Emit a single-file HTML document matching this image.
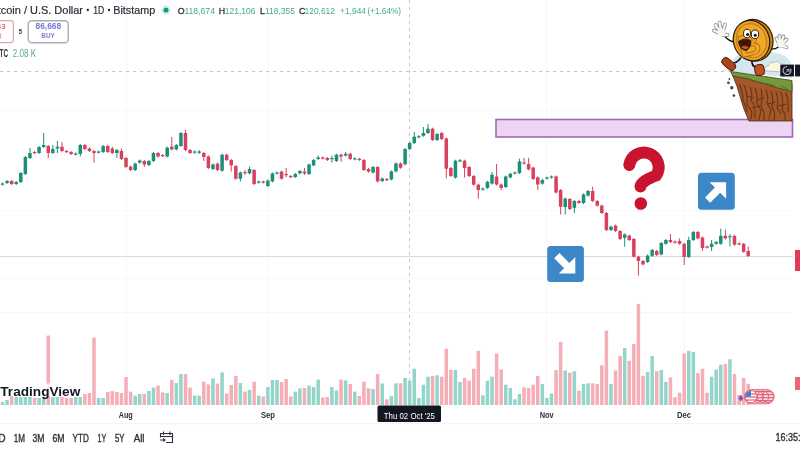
<!DOCTYPE html>
<html><head><meta charset="utf-8"><style>
html,body{margin:0;padding:0;background:#fff;}
body{width:800px;height:450px;overflow:hidden;position:relative;font-family:"Liberation Sans",sans-serif;}
svg{position:absolute;left:0;top:0;filter:blur(0.6px);}
</style></head><body>
<svg width="800" height="450" viewBox="0 0 800 450">
<rect x="0" y="0" width="800" height="450" fill="#ffffff"/>
<line x1="126.5" y1="0" x2="126.5" y2="405" stroke="#f7f8fa" stroke-width="1"/>
<line x1="268.5" y1="0" x2="268.5" y2="405" stroke="#f7f8fa" stroke-width="1"/>
<line x1="546.5" y1="0" x2="546.5" y2="405" stroke="#f7f8fa" stroke-width="1"/>
<line x1="684.5" y1="0" x2="684.5" y2="405" stroke="#f7f8fa" stroke-width="1"/>
<line x1="0" y1="110.5" x2="792" y2="110.5" stroke="#f7f8fa" stroke-width="1"/>
<line x1="0" y1="210.5" x2="792" y2="210.5" stroke="#f7f8fa" stroke-width="1"/>
<line x1="0" y1="278.5" x2="792" y2="278.5" stroke="#f7f8fa" stroke-width="1"/>
<line x1="0" y1="312.5" x2="792" y2="312.5" stroke="#f7f8fa" stroke-width="1"/>
<rect x="0.75" y="402.00" width="3.5" height="3.00" fill="#93d5c8"/>
<rect x="5.33" y="400.00" width="3.5" height="5.00" fill="#93d5c8"/>
<rect x="9.90" y="396.00" width="3.5" height="9.00" fill="#f5adb6"/>
<rect x="14.48" y="397.00" width="3.5" height="8.00" fill="#93d5c8"/>
<rect x="19.05" y="397.00" width="3.5" height="8.00" fill="#93d5c8"/>
<rect x="23.62" y="397.00" width="3.5" height="8.00" fill="#93d5c8"/>
<rect x="28.20" y="397.00" width="3.5" height="8.00" fill="#93d5c8"/>
<rect x="32.77" y="398.00" width="3.5" height="7.00" fill="#f5adb6"/>
<rect x="37.35" y="398.00" width="3.5" height="7.00" fill="#93d5c8"/>
<rect x="41.93" y="397.00" width="3.5" height="8.00" fill="#93d5c8"/>
<rect x="46.50" y="335.60" width="3.5" height="69.40" fill="#f5adb6"/>
<rect x="51.08" y="397.00" width="3.5" height="8.00" fill="#93d5c8"/>
<rect x="55.65" y="397.00" width="3.5" height="8.00" fill="#93d5c8"/>
<rect x="60.23" y="397.00" width="3.5" height="8.00" fill="#f5adb6"/>
<rect x="64.80" y="398.00" width="3.5" height="7.00" fill="#f5adb6"/>
<rect x="69.38" y="398.00" width="3.5" height="7.00" fill="#f5adb6"/>
<rect x="73.95" y="397.00" width="3.5" height="8.00" fill="#93d5c8"/>
<rect x="78.53" y="397.00" width="3.5" height="8.00" fill="#93d5c8"/>
<rect x="83.10" y="394.00" width="3.5" height="11.00" fill="#f5adb6"/>
<rect x="87.67" y="393.00" width="3.5" height="12.00" fill="#f5adb6"/>
<rect x="92.25" y="337.60" width="3.5" height="67.40" fill="#f5adb6"/>
<rect x="96.83" y="398.00" width="3.5" height="7.00" fill="#93d5c8"/>
<rect x="101.40" y="398.00" width="3.5" height="7.00" fill="#93d5c8"/>
<rect x="105.98" y="392.00" width="3.5" height="13.00" fill="#f5adb6"/>
<rect x="110.55" y="391.00" width="3.5" height="14.00" fill="#f5adb6"/>
<rect x="115.12" y="392.00" width="3.5" height="13.00" fill="#f5adb6"/>
<rect x="119.70" y="393.00" width="3.5" height="12.00" fill="#f5adb6"/>
<rect x="124.28" y="377.00" width="3.5" height="28.00" fill="#f5adb6"/>
<rect x="128.85" y="391.60" width="3.5" height="13.40" fill="#f5adb6"/>
<rect x="133.43" y="395.60" width="3.5" height="9.40" fill="#93d5c8"/>
<rect x="138.00" y="394.00" width="3.5" height="11.00" fill="#93d5c8"/>
<rect x="142.58" y="394.00" width="3.5" height="11.00" fill="#f5adb6"/>
<rect x="147.15" y="391.00" width="3.5" height="14.00" fill="#93d5c8"/>
<rect x="151.72" y="387.60" width="3.5" height="17.40" fill="#93d5c8"/>
<rect x="156.30" y="385.60" width="3.5" height="19.40" fill="#f5adb6"/>
<rect x="160.88" y="392.40" width="3.5" height="12.60" fill="#f5adb6"/>
<rect x="165.45" y="393.00" width="3.5" height="12.00" fill="#93d5c8"/>
<rect x="170.03" y="380.00" width="3.5" height="25.00" fill="#f5adb6"/>
<rect x="174.60" y="383.00" width="3.5" height="22.00" fill="#93d5c8"/>
<rect x="179.18" y="374.00" width="3.5" height="31.00" fill="#93d5c8"/>
<rect x="183.75" y="374.00" width="3.5" height="31.00" fill="#f5adb6"/>
<rect x="188.33" y="387.60" width="3.5" height="17.40" fill="#f5adb6"/>
<rect x="192.90" y="395.60" width="3.5" height="9.40" fill="#93d5c8"/>
<rect x="197.47" y="395.60" width="3.5" height="9.40" fill="#93d5c8"/>
<rect x="202.05" y="381.60" width="3.5" height="23.40" fill="#f5adb6"/>
<rect x="206.62" y="384.40" width="3.5" height="20.60" fill="#f5adb6"/>
<rect x="211.20" y="378.40" width="3.5" height="26.60" fill="#93d5c8"/>
<rect x="215.78" y="383.60" width="3.5" height="21.40" fill="#f5adb6"/>
<rect x="220.35" y="372.40" width="3.5" height="32.60" fill="#93d5c8"/>
<rect x="224.93" y="393.60" width="3.5" height="11.40" fill="#f5adb6"/>
<rect x="229.50" y="385.00" width="3.5" height="20.00" fill="#f5adb6"/>
<rect x="234.08" y="376.00" width="3.5" height="29.00" fill="#f5adb6"/>
<rect x="238.65" y="383.00" width="3.5" height="22.00" fill="#93d5c8"/>
<rect x="243.23" y="391.60" width="3.5" height="13.40" fill="#f5adb6"/>
<rect x="247.80" y="390.00" width="3.5" height="15.00" fill="#93d5c8"/>
<rect x="252.38" y="381.60" width="3.5" height="23.40" fill="#f5adb6"/>
<rect x="256.95" y="395.60" width="3.5" height="9.40" fill="#93d5c8"/>
<rect x="261.53" y="396.40" width="3.5" height="8.60" fill="#f5adb6"/>
<rect x="266.10" y="387.00" width="3.5" height="18.00" fill="#93d5c8"/>
<rect x="270.68" y="380.00" width="3.5" height="25.00" fill="#93d5c8"/>
<rect x="275.25" y="380.00" width="3.5" height="25.00" fill="#93d5c8"/>
<rect x="279.82" y="382.00" width="3.5" height="23.00" fill="#f5adb6"/>
<rect x="284.40" y="379.00" width="3.5" height="26.00" fill="#f5adb6"/>
<rect x="288.98" y="396.40" width="3.5" height="8.60" fill="#f5adb6"/>
<rect x="293.55" y="391.60" width="3.5" height="13.40" fill="#93d5c8"/>
<rect x="298.12" y="388.40" width="3.5" height="16.60" fill="#93d5c8"/>
<rect x="302.70" y="388.00" width="3.5" height="17.00" fill="#f5adb6"/>
<rect x="307.28" y="385.60" width="3.5" height="19.40" fill="#93d5c8"/>
<rect x="311.85" y="387.00" width="3.5" height="18.00" fill="#93d5c8"/>
<rect x="316.43" y="379.60" width="3.5" height="25.40" fill="#93d5c8"/>
<rect x="321.00" y="397.60" width="3.5" height="7.40" fill="#f5adb6"/>
<rect x="325.57" y="397.00" width="3.5" height="8.00" fill="#f5adb6"/>
<rect x="330.15" y="387.00" width="3.5" height="18.00" fill="#93d5c8"/>
<rect x="334.73" y="390.40" width="3.5" height="14.60" fill="#93d5c8"/>
<rect x="339.30" y="379.60" width="3.5" height="25.40" fill="#f5adb6"/>
<rect x="343.88" y="380.40" width="3.5" height="24.60" fill="#93d5c8"/>
<rect x="348.45" y="384.00" width="3.5" height="21.00" fill="#f5adb6"/>
<rect x="353.03" y="391.60" width="3.5" height="13.40" fill="#93d5c8"/>
<rect x="357.60" y="396.00" width="3.5" height="9.00" fill="#f5adb6"/>
<rect x="362.18" y="381.60" width="3.5" height="23.40" fill="#f5adb6"/>
<rect x="366.75" y="388.40" width="3.5" height="16.60" fill="#f5adb6"/>
<rect x="371.32" y="389.00" width="3.5" height="16.00" fill="#93d5c8"/>
<rect x="375.90" y="374.00" width="3.5" height="31.00" fill="#f5adb6"/>
<rect x="380.48" y="383.50" width="3.5" height="21.50" fill="#93d5c8"/>
<rect x="385.05" y="399.30" width="3.5" height="5.70" fill="#f5adb6"/>
<rect x="389.62" y="396.00" width="3.5" height="9.00" fill="#93d5c8"/>
<rect x="394.20" y="383.30" width="3.5" height="21.70" fill="#93d5c8"/>
<rect x="398.78" y="383.30" width="3.5" height="21.70" fill="#f5adb6"/>
<rect x="403.35" y="378.00" width="3.5" height="27.00" fill="#93d5c8"/>
<rect x="407.93" y="380.70" width="3.5" height="24.30" fill="#93d5c8"/>
<rect x="412.50" y="368.70" width="3.5" height="36.30" fill="#93d5c8"/>
<rect x="417.07" y="398.00" width="3.5" height="7.00" fill="#93d5c8"/>
<rect x="421.65" y="384.70" width="3.5" height="20.30" fill="#93d5c8"/>
<rect x="426.23" y="376.70" width="3.5" height="28.30" fill="#93d5c8"/>
<rect x="430.80" y="376.00" width="3.5" height="29.00" fill="#f5adb6"/>
<rect x="435.38" y="375.30" width="3.5" height="29.70" fill="#93d5c8"/>
<rect x="439.95" y="376.70" width="3.5" height="28.30" fill="#f5adb6"/>
<rect x="444.53" y="348.70" width="3.5" height="56.30" fill="#f5adb6"/>
<rect x="449.10" y="370.00" width="3.5" height="35.00" fill="#f5adb6"/>
<rect x="453.68" y="370.00" width="3.5" height="35.00" fill="#93d5c8"/>
<rect x="458.25" y="382.00" width="3.5" height="23.00" fill="#93d5c8"/>
<rect x="462.83" y="378.00" width="3.5" height="27.00" fill="#f5adb6"/>
<rect x="467.40" y="380.70" width="3.5" height="24.30" fill="#f5adb6"/>
<rect x="471.98" y="368.70" width="3.5" height="36.30" fill="#f5adb6"/>
<rect x="476.55" y="350.80" width="3.5" height="54.20" fill="#f5adb6"/>
<rect x="481.12" y="395.30" width="3.5" height="9.70" fill="#93d5c8"/>
<rect x="485.70" y="380.70" width="3.5" height="24.30" fill="#93d5c8"/>
<rect x="490.28" y="376.70" width="3.5" height="28.30" fill="#93d5c8"/>
<rect x="494.85" y="353.50" width="3.5" height="51.50" fill="#f5adb6"/>
<rect x="499.43" y="369.50" width="3.5" height="35.50" fill="#f5adb6"/>
<rect x="504.00" y="384.70" width="3.5" height="20.30" fill="#93d5c8"/>
<rect x="508.58" y="388.00" width="3.5" height="17.00" fill="#93d5c8"/>
<rect x="513.15" y="399.30" width="3.5" height="5.70" fill="#93d5c8"/>
<rect x="517.73" y="394.00" width="3.5" height="11.00" fill="#93d5c8"/>
<rect x="522.30" y="387.30" width="3.5" height="17.70" fill="#f5adb6"/>
<rect x="526.88" y="388.00" width="3.5" height="17.00" fill="#f5adb6"/>
<rect x="531.45" y="384.70" width="3.5" height="20.30" fill="#f5adb6"/>
<rect x="536.02" y="375.90" width="3.5" height="29.10" fill="#f5adb6"/>
<rect x="540.60" y="383.90" width="3.5" height="21.10" fill="#93d5c8"/>
<rect x="545.18" y="398.00" width="3.5" height="7.00" fill="#93d5c8"/>
<rect x="549.75" y="393.50" width="3.5" height="11.50" fill="#93d5c8"/>
<rect x="554.33" y="370.00" width="3.5" height="35.00" fill="#f5adb6"/>
<rect x="558.90" y="342.00" width="3.5" height="63.00" fill="#f5adb6"/>
<rect x="563.48" y="370.50" width="3.5" height="34.50" fill="#93d5c8"/>
<rect x="568.05" y="372.70" width="3.5" height="32.30" fill="#f5adb6"/>
<rect x="572.62" y="371.30" width="3.5" height="33.70" fill="#93d5c8"/>
<rect x="577.20" y="390.80" width="3.5" height="14.20" fill="#f5adb6"/>
<rect x="581.77" y="383.90" width="3.5" height="21.10" fill="#93d5c8"/>
<rect x="586.35" y="383.30" width="3.5" height="21.70" fill="#93d5c8"/>
<rect x="590.93" y="383.30" width="3.5" height="21.70" fill="#f5adb6"/>
<rect x="595.50" y="383.90" width="3.5" height="21.10" fill="#f5adb6"/>
<rect x="600.08" y="365.20" width="3.5" height="39.80" fill="#f5adb6"/>
<rect x="604.65" y="330.50" width="3.5" height="74.50" fill="#f5adb6"/>
<rect x="609.23" y="383.90" width="3.5" height="21.10" fill="#93d5c8"/>
<rect x="613.80" y="370.50" width="3.5" height="34.50" fill="#f5adb6"/>
<rect x="618.38" y="356.00" width="3.5" height="49.00" fill="#f5adb6"/>
<rect x="622.95" y="348.00" width="3.5" height="57.00" fill="#93d5c8"/>
<rect x="627.52" y="360.70" width="3.5" height="44.30" fill="#f5adb6"/>
<rect x="632.10" y="343.90" width="3.5" height="61.10" fill="#f5adb6"/>
<rect x="636.68" y="303.90" width="3.5" height="101.10" fill="#f5adb6"/>
<rect x="641.25" y="375.90" width="3.5" height="29.10" fill="#f5adb6"/>
<rect x="645.83" y="372.00" width="3.5" height="33.00" fill="#93d5c8"/>
<rect x="650.40" y="356.00" width="3.5" height="49.00" fill="#93d5c8"/>
<rect x="654.98" y="371.30" width="3.5" height="33.70" fill="#f5adb6"/>
<rect x="659.55" y="370.00" width="3.5" height="35.00" fill="#93d5c8"/>
<rect x="664.12" y="382.00" width="3.5" height="23.00" fill="#93d5c8"/>
<rect x="668.70" y="377.50" width="3.5" height="27.50" fill="#f5adb6"/>
<rect x="673.27" y="397.20" width="3.5" height="7.80" fill="#f5adb6"/>
<rect x="677.85" y="392.70" width="3.5" height="12.30" fill="#f5adb6"/>
<rect x="682.43" y="353.50" width="3.5" height="51.50" fill="#f5adb6"/>
<rect x="687.00" y="350.80" width="3.5" height="54.20" fill="#93d5c8"/>
<rect x="691.58" y="351.90" width="3.5" height="53.10" fill="#93d5c8"/>
<rect x="696.15" y="373.20" width="3.5" height="31.80" fill="#f5adb6"/>
<rect x="700.73" y="368.70" width="3.5" height="36.30" fill="#f5adb6"/>
<rect x="705.30" y="392.70" width="3.5" height="12.30" fill="#f5adb6"/>
<rect x="709.88" y="376.70" width="3.5" height="28.30" fill="#93d5c8"/>
<rect x="714.45" y="369.50" width="3.5" height="35.50" fill="#93d5c8"/>
<rect x="719.02" y="364.70" width="3.5" height="40.30" fill="#93d5c8"/>
<rect x="723.60" y="364.00" width="3.5" height="41.00" fill="#f5adb6"/>
<rect x="728.18" y="359.30" width="3.5" height="45.70" fill="#93d5c8"/>
<rect x="732.75" y="374.00" width="3.5" height="31.00" fill="#f5adb6"/>
<rect x="737.33" y="395.00" width="3.5" height="10.00" fill="#f5adb6"/>
<rect x="741.90" y="378.00" width="3.5" height="27.00" fill="#f5adb6"/>
<rect x="746.48" y="383.90" width="3.5" height="21.10" fill="#f5adb6"/>
<line x1="409.5" y1="0" x2="409.5" y2="405" stroke="#c4c6cb" stroke-width="1" stroke-dasharray="3.2 3.8"/>
<line x1="0" y1="71.5" x2="780" y2="71.5" stroke="#c4c6cb" stroke-width="1" stroke-dasharray="3.2 3.8"/>
<line x1="0" y1="256.5" x2="793" y2="256.5" stroke="#d8d9dd" stroke-width="1"/>
<line x1="2.50" y1="182.50" x2="2.50" y2="185.50" stroke="#1a9077" stroke-width="1"/>
<rect x="0.75" y="183.50" width="3.5" height="1.20" fill="#1a9077"/>
<line x1="7.08" y1="180.00" x2="7.08" y2="184.00" stroke="#1a9077" stroke-width="1"/>
<rect x="5.33" y="181.00" width="3.5" height="2.00" fill="#1a9077"/>
<line x1="11.65" y1="180.00" x2="11.65" y2="185.00" stroke="#d9405d" stroke-width="1"/>
<rect x="9.90" y="181.00" width="3.5" height="3.00" fill="#d9405d"/>
<line x1="16.23" y1="181.00" x2="16.23" y2="185.00" stroke="#1a9077" stroke-width="1"/>
<rect x="14.48" y="182.00" width="3.5" height="2.00" fill="#1a9077"/>
<line x1="20.80" y1="172.00" x2="20.80" y2="183.00" stroke="#1a9077" stroke-width="1"/>
<rect x="19.05" y="173.00" width="3.5" height="9.00" fill="#1a9077"/>
<line x1="25.38" y1="156.00" x2="25.38" y2="175.00" stroke="#1a9077" stroke-width="1"/>
<rect x="23.62" y="157.00" width="3.5" height="17.00" fill="#1a9077"/>
<line x1="29.95" y1="148.00" x2="29.95" y2="159.00" stroke="#1a9077" stroke-width="1"/>
<rect x="28.20" y="153.00" width="3.5" height="5.00" fill="#1a9077"/>
<line x1="34.52" y1="151.00" x2="34.52" y2="154.00" stroke="#d9405d" stroke-width="1"/>
<rect x="32.77" y="152.00" width="3.5" height="1.20" fill="#d9405d"/>
<line x1="39.10" y1="146.00" x2="39.10" y2="154.00" stroke="#1a9077" stroke-width="1"/>
<rect x="37.35" y="147.00" width="3.5" height="6.00" fill="#1a9077"/>
<line x1="43.68" y1="133.00" x2="43.68" y2="148.00" stroke="#1a9077" stroke-width="1"/>
<rect x="41.93" y="145.00" width="3.5" height="2.00" fill="#1a9077"/>
<line x1="48.25" y1="145.00" x2="48.25" y2="158.00" stroke="#d9405d" stroke-width="1"/>
<rect x="46.50" y="146.00" width="3.5" height="7.00" fill="#d9405d"/>
<line x1="52.83" y1="145.00" x2="52.83" y2="154.00" stroke="#1a9077" stroke-width="1"/>
<rect x="51.08" y="149.00" width="3.5" height="4.00" fill="#1a9077"/>
<line x1="57.40" y1="141.00" x2="57.40" y2="153.00" stroke="#1a9077" stroke-width="1"/>
<rect x="55.65" y="146.70" width="3.5" height="1.80" fill="#1a9077"/>
<line x1="61.98" y1="142.00" x2="61.98" y2="152.00" stroke="#d9405d" stroke-width="1"/>
<rect x="60.23" y="146.70" width="3.5" height="4.30" fill="#d9405d"/>
<line x1="66.55" y1="150.00" x2="66.55" y2="153.00" stroke="#d9405d" stroke-width="1"/>
<rect x="64.80" y="151.00" width="3.5" height="1.20" fill="#d9405d"/>
<line x1="71.12" y1="151.00" x2="71.12" y2="155.00" stroke="#d9405d" stroke-width="1"/>
<rect x="69.38" y="152.00" width="3.5" height="2.00" fill="#d9405d"/>
<line x1="75.70" y1="152.50" x2="75.70" y2="155.50" stroke="#1a9077" stroke-width="1"/>
<rect x="73.95" y="153.50" width="3.5" height="1.20" fill="#1a9077"/>
<line x1="80.28" y1="144.00" x2="80.28" y2="156.50" stroke="#1a9077" stroke-width="1"/>
<rect x="78.53" y="145.00" width="3.5" height="9.00" fill="#1a9077"/>
<line x1="84.85" y1="144.00" x2="84.85" y2="150.00" stroke="#d9405d" stroke-width="1"/>
<rect x="83.10" y="145.00" width="3.5" height="4.00" fill="#d9405d"/>
<line x1="89.42" y1="147.50" x2="89.42" y2="152.00" stroke="#d9405d" stroke-width="1"/>
<rect x="87.67" y="148.50" width="3.5" height="2.50" fill="#d9405d"/>
<line x1="94.00" y1="150.00" x2="94.00" y2="162.70" stroke="#d9405d" stroke-width="1"/>
<rect x="92.25" y="151.00" width="3.5" height="2.00" fill="#d9405d"/>
<line x1="98.58" y1="150.50" x2="98.58" y2="153.50" stroke="#1a9077" stroke-width="1"/>
<rect x="96.83" y="151.50" width="3.5" height="1.20" fill="#1a9077"/>
<line x1="103.15" y1="145.00" x2="103.15" y2="153.00" stroke="#1a9077" stroke-width="1"/>
<rect x="101.40" y="146.00" width="3.5" height="6.00" fill="#1a9077"/>
<line x1="107.73" y1="145.00" x2="107.73" y2="153.00" stroke="#d9405d" stroke-width="1"/>
<rect x="105.98" y="146.00" width="3.5" height="6.00" fill="#d9405d"/>
<line x1="112.30" y1="146.70" x2="112.30" y2="154.00" stroke="#d9405d" stroke-width="1"/>
<rect x="110.55" y="148.50" width="3.5" height="4.50" fill="#d9405d"/>
<line x1="116.88" y1="149.00" x2="116.88" y2="158.00" stroke="#1a9077" stroke-width="1"/>
<rect x="115.12" y="150.00" width="3.5" height="3.00" fill="#1a9077"/>
<line x1="121.45" y1="148.50" x2="121.45" y2="160.00" stroke="#d9405d" stroke-width="1"/>
<rect x="119.70" y="151.00" width="3.5" height="8.00" fill="#d9405d"/>
<line x1="126.03" y1="157.00" x2="126.03" y2="168.00" stroke="#d9405d" stroke-width="1"/>
<rect x="124.28" y="158.00" width="3.5" height="9.00" fill="#d9405d"/>
<line x1="130.60" y1="165.60" x2="130.60" y2="171.00" stroke="#d9405d" stroke-width="1"/>
<rect x="128.85" y="166.60" width="3.5" height="3.40" fill="#d9405d"/>
<line x1="135.18" y1="162.60" x2="135.18" y2="171.00" stroke="#1a9077" stroke-width="1"/>
<rect x="133.43" y="163.60" width="3.5" height="6.40" fill="#1a9077"/>
<line x1="139.75" y1="159.50" x2="139.75" y2="163.70" stroke="#1a9077" stroke-width="1"/>
<rect x="138.00" y="160.50" width="3.5" height="2.20" fill="#1a9077"/>
<line x1="144.33" y1="160.00" x2="144.33" y2="167.00" stroke="#d9405d" stroke-width="1"/>
<rect x="142.58" y="161.00" width="3.5" height="3.50" fill="#d9405d"/>
<line x1="148.90" y1="160.00" x2="148.90" y2="166.00" stroke="#1a9077" stroke-width="1"/>
<rect x="147.15" y="161.00" width="3.5" height="4.00" fill="#1a9077"/>
<line x1="153.47" y1="152.00" x2="153.47" y2="162.00" stroke="#1a9077" stroke-width="1"/>
<rect x="151.72" y="153.00" width="3.5" height="8.00" fill="#1a9077"/>
<line x1="158.05" y1="152.00" x2="158.05" y2="157.50" stroke="#d9405d" stroke-width="1"/>
<rect x="156.30" y="153.00" width="3.5" height="3.50" fill="#d9405d"/>
<line x1="162.62" y1="154.00" x2="162.62" y2="157.00" stroke="#d9405d" stroke-width="1"/>
<rect x="160.88" y="155.00" width="3.5" height="1.20" fill="#d9405d"/>
<line x1="167.20" y1="146.60" x2="167.20" y2="157.50" stroke="#1a9077" stroke-width="1"/>
<rect x="165.45" y="147.60" width="3.5" height="8.90" fill="#1a9077"/>
<line x1="171.78" y1="137.00" x2="171.78" y2="150.40" stroke="#d9405d" stroke-width="1"/>
<rect x="170.03" y="146.70" width="3.5" height="2.70" fill="#d9405d"/>
<line x1="176.35" y1="144.00" x2="176.35" y2="150.40" stroke="#1a9077" stroke-width="1"/>
<rect x="174.60" y="145.00" width="3.5" height="4.40" fill="#1a9077"/>
<line x1="180.93" y1="132.00" x2="180.93" y2="147.00" stroke="#1a9077" stroke-width="1"/>
<rect x="179.18" y="133.00" width="3.5" height="13.00" fill="#1a9077"/>
<line x1="185.50" y1="130.00" x2="185.50" y2="151.00" stroke="#d9405d" stroke-width="1"/>
<rect x="183.75" y="133.00" width="3.5" height="17.00" fill="#d9405d"/>
<line x1="190.08" y1="149.00" x2="190.08" y2="154.00" stroke="#d9405d" stroke-width="1"/>
<rect x="188.33" y="150.00" width="3.5" height="3.00" fill="#d9405d"/>
<line x1="194.65" y1="150.50" x2="194.65" y2="153.50" stroke="#1a9077" stroke-width="1"/>
<rect x="192.90" y="151.50" width="3.5" height="1.20" fill="#1a9077"/>
<line x1="199.22" y1="150.00" x2="199.22" y2="154.00" stroke="#1a9077" stroke-width="1"/>
<rect x="197.47" y="151.50" width="3.5" height="1.20" fill="#1a9077"/>
<line x1="203.80" y1="152.00" x2="203.80" y2="161.00" stroke="#d9405d" stroke-width="1"/>
<rect x="202.05" y="153.00" width="3.5" height="4.00" fill="#d9405d"/>
<line x1="208.38" y1="155.50" x2="208.38" y2="169.00" stroke="#d9405d" stroke-width="1"/>
<rect x="206.62" y="156.50" width="3.5" height="11.50" fill="#d9405d"/>
<line x1="212.95" y1="163.50" x2="212.95" y2="170.00" stroke="#1a9077" stroke-width="1"/>
<rect x="211.20" y="164.50" width="3.5" height="4.50" fill="#1a9077"/>
<line x1="217.53" y1="162.60" x2="217.53" y2="171.00" stroke="#d9405d" stroke-width="1"/>
<rect x="215.78" y="163.60" width="3.5" height="6.40" fill="#d9405d"/>
<line x1="222.10" y1="153.70" x2="222.10" y2="171.70" stroke="#1a9077" stroke-width="1"/>
<rect x="220.35" y="154.70" width="3.5" height="16.00" fill="#1a9077"/>
<line x1="226.68" y1="153.70" x2="226.68" y2="161.00" stroke="#d9405d" stroke-width="1"/>
<rect x="224.93" y="154.70" width="3.5" height="5.30" fill="#d9405d"/>
<line x1="231.25" y1="159.00" x2="231.25" y2="171.60" stroke="#d9405d" stroke-width="1"/>
<rect x="229.50" y="160.00" width="3.5" height="5.40" fill="#d9405d"/>
<line x1="235.83" y1="165.00" x2="235.83" y2="179.70" stroke="#d9405d" stroke-width="1"/>
<rect x="234.08" y="166.00" width="3.5" height="12.70" fill="#d9405d"/>
<line x1="240.40" y1="171.50" x2="240.40" y2="181.40" stroke="#1a9077" stroke-width="1"/>
<rect x="238.65" y="172.50" width="3.5" height="6.20" fill="#1a9077"/>
<line x1="244.98" y1="170.00" x2="244.98" y2="175.00" stroke="#d9405d" stroke-width="1"/>
<rect x="243.23" y="172.00" width="3.5" height="1.20" fill="#d9405d"/>
<line x1="249.55" y1="166.60" x2="249.55" y2="174.40" stroke="#1a9077" stroke-width="1"/>
<rect x="247.80" y="169.00" width="3.5" height="4.40" fill="#1a9077"/>
<line x1="254.12" y1="169.00" x2="254.12" y2="185.00" stroke="#d9405d" stroke-width="1"/>
<rect x="252.38" y="170.00" width="3.5" height="14.00" fill="#d9405d"/>
<line x1="258.70" y1="180.50" x2="258.70" y2="183.50" stroke="#1a9077" stroke-width="1"/>
<rect x="256.95" y="181.50" width="3.5" height="1.20" fill="#1a9077"/>
<line x1="263.28" y1="180.50" x2="263.28" y2="183.50" stroke="#d9405d" stroke-width="1"/>
<rect x="261.53" y="181.50" width="3.5" height="1.20" fill="#d9405d"/>
<line x1="267.85" y1="179.50" x2="267.85" y2="187.00" stroke="#1a9077" stroke-width="1"/>
<rect x="266.10" y="180.50" width="3.5" height="5.50" fill="#1a9077"/>
<line x1="272.43" y1="172.40" x2="272.43" y2="182.40" stroke="#1a9077" stroke-width="1"/>
<rect x="270.68" y="173.40" width="3.5" height="8.00" fill="#1a9077"/>
<line x1="277.00" y1="171.50" x2="277.00" y2="174.50" stroke="#1a9077" stroke-width="1"/>
<rect x="275.25" y="172.50" width="3.5" height="1.20" fill="#1a9077"/>
<line x1="281.57" y1="170.60" x2="281.57" y2="179.70" stroke="#d9405d" stroke-width="1"/>
<rect x="279.82" y="171.60" width="3.5" height="7.10" fill="#d9405d"/>
<line x1="286.15" y1="168.00" x2="286.15" y2="177.00" stroke="#d9405d" stroke-width="1"/>
<rect x="284.40" y="174.00" width="3.5" height="1.20" fill="#d9405d"/>
<line x1="290.73" y1="175.00" x2="290.73" y2="178.00" stroke="#d9405d" stroke-width="1"/>
<rect x="288.98" y="176.00" width="3.5" height="1.20" fill="#d9405d"/>
<line x1="295.30" y1="173.00" x2="295.30" y2="178.00" stroke="#1a9077" stroke-width="1"/>
<rect x="293.55" y="174.00" width="3.5" height="3.00" fill="#1a9077"/>
<line x1="299.88" y1="170.00" x2="299.88" y2="174.40" stroke="#1a9077" stroke-width="1"/>
<rect x="298.12" y="171.00" width="3.5" height="2.40" fill="#1a9077"/>
<line x1="304.45" y1="168.00" x2="304.45" y2="175.00" stroke="#d9405d" stroke-width="1"/>
<rect x="302.70" y="171.60" width="3.5" height="1.80" fill="#d9405d"/>
<line x1="309.03" y1="163.50" x2="309.03" y2="175.00" stroke="#1a9077" stroke-width="1"/>
<rect x="307.28" y="164.50" width="3.5" height="9.50" fill="#1a9077"/>
<line x1="313.60" y1="159.00" x2="313.60" y2="166.40" stroke="#1a9077" stroke-width="1"/>
<rect x="311.85" y="160.00" width="3.5" height="5.40" fill="#1a9077"/>
<line x1="318.18" y1="155.60" x2="318.18" y2="160.00" stroke="#1a9077" stroke-width="1"/>
<rect x="316.43" y="157.40" width="3.5" height="1.60" fill="#1a9077"/>
<line x1="322.75" y1="156.50" x2="322.75" y2="159.50" stroke="#d9405d" stroke-width="1"/>
<rect x="321.00" y="157.50" width="3.5" height="1.20" fill="#d9405d"/>
<line x1="327.32" y1="157.00" x2="327.32" y2="161.00" stroke="#d9405d" stroke-width="1"/>
<rect x="325.57" y="158.00" width="3.5" height="2.00" fill="#d9405d"/>
<line x1="331.90" y1="155.60" x2="331.90" y2="162.70" stroke="#1a9077" stroke-width="1"/>
<rect x="330.15" y="158.00" width="3.5" height="1.20" fill="#1a9077"/>
<line x1="336.48" y1="153.70" x2="336.48" y2="162.00" stroke="#1a9077" stroke-width="1"/>
<rect x="334.73" y="154.70" width="3.5" height="6.30" fill="#1a9077"/>
<line x1="341.05" y1="153.70" x2="341.05" y2="161.80" stroke="#d9405d" stroke-width="1"/>
<rect x="339.30" y="154.70" width="3.5" height="1.80" fill="#d9405d"/>
<line x1="345.62" y1="152.00" x2="345.62" y2="156.60" stroke="#1a9077" stroke-width="1"/>
<rect x="343.88" y="153.80" width="3.5" height="1.80" fill="#1a9077"/>
<line x1="350.20" y1="152.80" x2="350.20" y2="160.00" stroke="#d9405d" stroke-width="1"/>
<rect x="348.45" y="153.80" width="3.5" height="5.20" fill="#d9405d"/>
<line x1="354.78" y1="157.30" x2="354.78" y2="160.30" stroke="#1a9077" stroke-width="1"/>
<rect x="353.03" y="158.30" width="3.5" height="1.20" fill="#1a9077"/>
<line x1="359.35" y1="157.80" x2="359.35" y2="161.00" stroke="#d9405d" stroke-width="1"/>
<rect x="357.60" y="158.80" width="3.5" height="1.20" fill="#d9405d"/>
<line x1="363.93" y1="159.00" x2="363.93" y2="171.00" stroke="#d9405d" stroke-width="1"/>
<rect x="362.18" y="160.00" width="3.5" height="10.00" fill="#d9405d"/>
<line x1="368.50" y1="168.00" x2="368.50" y2="172.60" stroke="#d9405d" stroke-width="1"/>
<rect x="366.75" y="169.00" width="3.5" height="2.60" fill="#d9405d"/>
<line x1="373.07" y1="166.00" x2="373.07" y2="173.50" stroke="#1a9077" stroke-width="1"/>
<rect x="371.32" y="167.00" width="3.5" height="5.50" fill="#1a9077"/>
<line x1="377.65" y1="166.00" x2="377.65" y2="182.40" stroke="#d9405d" stroke-width="1"/>
<rect x="375.90" y="167.00" width="3.5" height="14.40" fill="#d9405d"/>
<line x1="382.23" y1="177.50" x2="382.23" y2="182.00" stroke="#1a9077" stroke-width="1"/>
<rect x="380.48" y="178.50" width="3.5" height="2.50" fill="#1a9077"/>
<line x1="386.80" y1="178.00" x2="386.80" y2="181.00" stroke="#d9405d" stroke-width="1"/>
<rect x="385.05" y="179.00" width="3.5" height="1.20" fill="#d9405d"/>
<line x1="391.38" y1="170.40" x2="391.38" y2="180.40" stroke="#1a9077" stroke-width="1"/>
<rect x="389.62" y="171.40" width="3.5" height="8.00" fill="#1a9077"/>
<line x1="395.95" y1="162.40" x2="395.95" y2="172.40" stroke="#1a9077" stroke-width="1"/>
<rect x="394.20" y="163.40" width="3.5" height="8.00" fill="#1a9077"/>
<line x1="400.53" y1="162.40" x2="400.53" y2="168.80" stroke="#d9405d" stroke-width="1"/>
<rect x="398.78" y="163.40" width="3.5" height="4.40" fill="#d9405d"/>
<line x1="405.10" y1="148.00" x2="405.10" y2="165.30" stroke="#1a9077" stroke-width="1"/>
<rect x="403.35" y="149.00" width="3.5" height="15.30" fill="#1a9077"/>
<line x1="409.68" y1="142.00" x2="409.68" y2="150.00" stroke="#1a9077" stroke-width="1"/>
<rect x="407.93" y="143.00" width="3.5" height="6.00" fill="#1a9077"/>
<line x1="414.25" y1="132.00" x2="414.25" y2="144.00" stroke="#1a9077" stroke-width="1"/>
<rect x="412.50" y="136.70" width="3.5" height="6.30" fill="#1a9077"/>
<line x1="418.82" y1="135.20" x2="418.82" y2="138.20" stroke="#1a9077" stroke-width="1"/>
<rect x="417.07" y="136.20" width="3.5" height="1.20" fill="#1a9077"/>
<line x1="423.40" y1="127.00" x2="423.40" y2="136.80" stroke="#1a9077" stroke-width="1"/>
<rect x="421.65" y="133.00" width="3.5" height="2.80" fill="#1a9077"/>
<line x1="427.98" y1="124.00" x2="427.98" y2="134.00" stroke="#1a9077" stroke-width="1"/>
<rect x="426.23" y="128.70" width="3.5" height="4.30" fill="#1a9077"/>
<line x1="432.55" y1="127.70" x2="432.55" y2="141.00" stroke="#d9405d" stroke-width="1"/>
<rect x="430.80" y="128.70" width="3.5" height="11.30" fill="#d9405d"/>
<line x1="437.12" y1="133.00" x2="437.12" y2="141.00" stroke="#1a9077" stroke-width="1"/>
<rect x="435.38" y="134.00" width="3.5" height="6.00" fill="#1a9077"/>
<line x1="441.70" y1="132.00" x2="441.70" y2="140.00" stroke="#d9405d" stroke-width="1"/>
<rect x="439.95" y="133.00" width="3.5" height="6.00" fill="#d9405d"/>
<line x1="446.28" y1="137.50" x2="446.28" y2="178.50" stroke="#d9405d" stroke-width="1"/>
<rect x="444.53" y="138.50" width="3.5" height="30.20" fill="#d9405d"/>
<line x1="450.85" y1="167.00" x2="450.85" y2="177.00" stroke="#d9405d" stroke-width="1"/>
<rect x="449.10" y="168.00" width="3.5" height="8.00" fill="#d9405d"/>
<line x1="455.43" y1="159.70" x2="455.43" y2="178.60" stroke="#1a9077" stroke-width="1"/>
<rect x="453.68" y="160.70" width="3.5" height="16.90" fill="#1a9077"/>
<line x1="460.00" y1="159.00" x2="460.00" y2="162.20" stroke="#1a9077" stroke-width="1"/>
<rect x="458.25" y="160.20" width="3.5" height="1.20" fill="#1a9077"/>
<line x1="464.58" y1="159.70" x2="464.58" y2="177.60" stroke="#d9405d" stroke-width="1"/>
<rect x="462.83" y="160.70" width="3.5" height="7.30" fill="#d9405d"/>
<line x1="469.15" y1="166.00" x2="469.15" y2="177.00" stroke="#d9405d" stroke-width="1"/>
<rect x="467.40" y="167.00" width="3.5" height="9.00" fill="#d9405d"/>
<line x1="473.73" y1="175.00" x2="473.73" y2="185.70" stroke="#d9405d" stroke-width="1"/>
<rect x="471.98" y="176.00" width="3.5" height="8.70" fill="#d9405d"/>
<line x1="478.30" y1="183.70" x2="478.30" y2="198.70" stroke="#d9405d" stroke-width="1"/>
<rect x="476.55" y="184.70" width="3.5" height="5.30" fill="#d9405d"/>
<line x1="482.88" y1="187.50" x2="482.88" y2="190.50" stroke="#1a9077" stroke-width="1"/>
<rect x="481.12" y="188.50" width="3.5" height="1.20" fill="#1a9077"/>
<line x1="487.45" y1="180.80" x2="487.45" y2="189.00" stroke="#1a9077" stroke-width="1"/>
<rect x="485.70" y="181.80" width="3.5" height="6.20" fill="#1a9077"/>
<line x1="492.03" y1="172.00" x2="492.03" y2="184.60" stroke="#1a9077" stroke-width="1"/>
<rect x="490.28" y="174.70" width="3.5" height="8.90" fill="#1a9077"/>
<line x1="496.60" y1="164.00" x2="496.60" y2="185.50" stroke="#d9405d" stroke-width="1"/>
<rect x="494.85" y="176.50" width="3.5" height="8.00" fill="#d9405d"/>
<line x1="501.18" y1="183.50" x2="501.18" y2="190.00" stroke="#d9405d" stroke-width="1"/>
<rect x="499.43" y="184.50" width="3.5" height="3.50" fill="#d9405d"/>
<line x1="505.75" y1="175.50" x2="505.75" y2="188.00" stroke="#1a9077" stroke-width="1"/>
<rect x="504.00" y="176.50" width="3.5" height="10.50" fill="#1a9077"/>
<line x1="510.33" y1="172.80" x2="510.33" y2="178.40" stroke="#1a9077" stroke-width="1"/>
<rect x="508.58" y="173.80" width="3.5" height="3.60" fill="#1a9077"/>
<line x1="514.90" y1="171.50" x2="514.90" y2="174.50" stroke="#1a9077" stroke-width="1"/>
<rect x="513.15" y="172.50" width="3.5" height="1.20" fill="#1a9077"/>
<line x1="519.48" y1="158.70" x2="519.48" y2="174.00" stroke="#1a9077" stroke-width="1"/>
<rect x="517.73" y="161.40" width="3.5" height="11.60" fill="#1a9077"/>
<line x1="524.05" y1="157.80" x2="524.05" y2="164.50" stroke="#d9405d" stroke-width="1"/>
<rect x="522.30" y="162.50" width="3.5" height="1.20" fill="#d9405d"/>
<line x1="528.62" y1="157.80" x2="528.62" y2="170.40" stroke="#d9405d" stroke-width="1"/>
<rect x="526.88" y="164.00" width="3.5" height="5.40" fill="#d9405d"/>
<line x1="533.20" y1="166.60" x2="533.20" y2="180.00" stroke="#d9405d" stroke-width="1"/>
<rect x="531.45" y="167.60" width="3.5" height="11.40" fill="#d9405d"/>
<line x1="537.77" y1="176.40" x2="537.77" y2="189.80" stroke="#d9405d" stroke-width="1"/>
<rect x="536.02" y="177.40" width="3.5" height="7.10" fill="#d9405d"/>
<line x1="542.35" y1="179.00" x2="542.35" y2="184.60" stroke="#1a9077" stroke-width="1"/>
<rect x="540.60" y="180.00" width="3.5" height="3.60" fill="#1a9077"/>
<line x1="546.93" y1="176.50" x2="546.93" y2="179.50" stroke="#1a9077" stroke-width="1"/>
<rect x="545.18" y="177.50" width="3.5" height="1.20" fill="#1a9077"/>
<line x1="551.50" y1="175.50" x2="551.50" y2="178.50" stroke="#1a9077" stroke-width="1"/>
<rect x="549.75" y="176.50" width="3.5" height="1.20" fill="#1a9077"/>
<line x1="556.08" y1="175.50" x2="556.08" y2="193.50" stroke="#d9405d" stroke-width="1"/>
<rect x="554.33" y="176.50" width="3.5" height="16.00" fill="#d9405d"/>
<line x1="560.65" y1="189.00" x2="560.65" y2="214.70" stroke="#d9405d" stroke-width="1"/>
<rect x="558.90" y="190.00" width="3.5" height="16.70" fill="#d9405d"/>
<line x1="565.23" y1="197.50" x2="565.23" y2="214.50" stroke="#1a9077" stroke-width="1"/>
<rect x="563.48" y="198.50" width="3.5" height="8.50" fill="#1a9077"/>
<line x1="569.80" y1="198.00" x2="569.80" y2="210.00" stroke="#d9405d" stroke-width="1"/>
<rect x="568.05" y="199.00" width="3.5" height="10.00" fill="#d9405d"/>
<line x1="574.38" y1="200.00" x2="574.38" y2="213.00" stroke="#1a9077" stroke-width="1"/>
<rect x="572.62" y="201.00" width="3.5" height="6.80" fill="#1a9077"/>
<line x1="578.95" y1="200.00" x2="578.95" y2="204.00" stroke="#d9405d" stroke-width="1"/>
<rect x="577.20" y="201.00" width="3.5" height="2.00" fill="#d9405d"/>
<line x1="583.52" y1="193.40" x2="583.52" y2="204.00" stroke="#1a9077" stroke-width="1"/>
<rect x="581.77" y="194.40" width="3.5" height="8.60" fill="#1a9077"/>
<line x1="588.10" y1="190.00" x2="588.10" y2="196.60" stroke="#1a9077" stroke-width="1"/>
<rect x="586.35" y="191.00" width="3.5" height="4.60" fill="#1a9077"/>
<line x1="592.68" y1="186.70" x2="592.68" y2="202.00" stroke="#d9405d" stroke-width="1"/>
<rect x="590.93" y="191.00" width="3.5" height="10.00" fill="#d9405d"/>
<line x1="597.25" y1="200.00" x2="597.25" y2="206.60" stroke="#d9405d" stroke-width="1"/>
<rect x="595.50" y="201.00" width="3.5" height="4.60" fill="#d9405d"/>
<line x1="601.83" y1="204.60" x2="601.83" y2="214.00" stroke="#d9405d" stroke-width="1"/>
<rect x="600.08" y="205.60" width="3.5" height="7.40" fill="#d9405d"/>
<line x1="606.40" y1="212.00" x2="606.40" y2="231.00" stroke="#d9405d" stroke-width="1"/>
<rect x="604.65" y="213.00" width="3.5" height="17.00" fill="#d9405d"/>
<line x1="610.98" y1="225.70" x2="610.98" y2="231.00" stroke="#1a9077" stroke-width="1"/>
<rect x="609.23" y="226.70" width="3.5" height="3.30" fill="#1a9077"/>
<line x1="615.55" y1="224.60" x2="615.55" y2="232.00" stroke="#d9405d" stroke-width="1"/>
<rect x="613.80" y="225.60" width="3.5" height="5.40" fill="#d9405d"/>
<line x1="620.12" y1="230.00" x2="620.12" y2="240.00" stroke="#d9405d" stroke-width="1"/>
<rect x="618.38" y="231.00" width="3.5" height="8.00" fill="#d9405d"/>
<line x1="624.70" y1="233.40" x2="624.70" y2="246.70" stroke="#1a9077" stroke-width="1"/>
<rect x="622.95" y="234.40" width="3.5" height="3.40" fill="#1a9077"/>
<line x1="629.27" y1="234.60" x2="629.27" y2="241.00" stroke="#d9405d" stroke-width="1"/>
<rect x="627.52" y="235.60" width="3.5" height="4.40" fill="#d9405d"/>
<line x1="633.85" y1="238.00" x2="633.85" y2="257.70" stroke="#d9405d" stroke-width="1"/>
<rect x="632.10" y="239.00" width="3.5" height="17.70" fill="#d9405d"/>
<line x1="638.43" y1="255.70" x2="638.43" y2="275.60" stroke="#d9405d" stroke-width="1"/>
<rect x="636.68" y="256.70" width="3.5" height="4.30" fill="#d9405d"/>
<line x1="643.00" y1="260.00" x2="643.00" y2="265.40" stroke="#d9405d" stroke-width="1"/>
<rect x="641.25" y="261.00" width="3.5" height="3.40" fill="#d9405d"/>
<line x1="647.58" y1="254.60" x2="647.58" y2="263.00" stroke="#1a9077" stroke-width="1"/>
<rect x="645.83" y="255.60" width="3.5" height="6.40" fill="#1a9077"/>
<line x1="652.15" y1="249.00" x2="652.15" y2="256.80" stroke="#1a9077" stroke-width="1"/>
<rect x="650.40" y="250.00" width="3.5" height="5.80" fill="#1a9077"/>
<line x1="656.73" y1="250.00" x2="656.73" y2="256.00" stroke="#d9405d" stroke-width="1"/>
<rect x="654.98" y="251.00" width="3.5" height="4.00" fill="#d9405d"/>
<line x1="661.30" y1="242.00" x2="661.30" y2="255.40" stroke="#1a9077" stroke-width="1"/>
<rect x="659.55" y="243.00" width="3.5" height="11.40" fill="#1a9077"/>
<line x1="665.88" y1="239.00" x2="665.88" y2="244.80" stroke="#1a9077" stroke-width="1"/>
<rect x="664.12" y="240.00" width="3.5" height="3.80" fill="#1a9077"/>
<line x1="670.45" y1="234.00" x2="670.45" y2="243.00" stroke="#d9405d" stroke-width="1"/>
<rect x="668.70" y="240.00" width="3.5" height="2.00" fill="#d9405d"/>
<line x1="675.02" y1="240.50" x2="675.02" y2="243.50" stroke="#d9405d" stroke-width="1"/>
<rect x="673.27" y="241.50" width="3.5" height="1.20" fill="#d9405d"/>
<line x1="679.60" y1="238.40" x2="679.60" y2="244.80" stroke="#d9405d" stroke-width="1"/>
<rect x="677.85" y="241.00" width="3.5" height="2.80" fill="#d9405d"/>
<line x1="684.18" y1="242.80" x2="684.18" y2="265.00" stroke="#d9405d" stroke-width="1"/>
<rect x="682.43" y="243.80" width="3.5" height="13.20" fill="#d9405d"/>
<line x1="688.75" y1="236.70" x2="688.75" y2="258.00" stroke="#1a9077" stroke-width="1"/>
<rect x="687.00" y="240.00" width="3.5" height="17.00" fill="#1a9077"/>
<line x1="693.33" y1="231.00" x2="693.33" y2="241.00" stroke="#1a9077" stroke-width="1"/>
<rect x="691.58" y="232.00" width="3.5" height="8.00" fill="#1a9077"/>
<line x1="697.90" y1="231.00" x2="697.90" y2="239.40" stroke="#d9405d" stroke-width="1"/>
<rect x="696.15" y="232.00" width="3.5" height="6.40" fill="#d9405d"/>
<line x1="702.48" y1="236.50" x2="702.48" y2="250.90" stroke="#d9405d" stroke-width="1"/>
<rect x="700.73" y="237.50" width="3.5" height="10.50" fill="#d9405d"/>
<line x1="707.05" y1="245.50" x2="707.05" y2="248.50" stroke="#d9405d" stroke-width="1"/>
<rect x="705.30" y="246.50" width="3.5" height="1.20" fill="#d9405d"/>
<line x1="711.62" y1="240.00" x2="711.62" y2="251.00" stroke="#1a9077" stroke-width="1"/>
<rect x="709.88" y="243.80" width="3.5" height="3.20" fill="#1a9077"/>
<line x1="716.20" y1="241.00" x2="716.20" y2="244.80" stroke="#1a9077" stroke-width="1"/>
<rect x="714.45" y="242.00" width="3.5" height="1.80" fill="#1a9077"/>
<line x1="720.77" y1="228.70" x2="720.77" y2="244.80" stroke="#1a9077" stroke-width="1"/>
<rect x="719.02" y="235.80" width="3.5" height="8.00" fill="#1a9077"/>
<line x1="725.35" y1="229.50" x2="725.35" y2="239.40" stroke="#d9405d" stroke-width="1"/>
<rect x="723.60" y="235.80" width="3.5" height="2.60" fill="#d9405d"/>
<line x1="729.93" y1="234.00" x2="729.93" y2="246.40" stroke="#1a9077" stroke-width="1"/>
<rect x="728.18" y="236.20" width="3.5" height="1.20" fill="#1a9077"/>
<line x1="734.50" y1="234.80" x2="734.50" y2="245.70" stroke="#d9405d" stroke-width="1"/>
<rect x="732.75" y="235.80" width="3.5" height="8.90" fill="#d9405d"/>
<line x1="739.08" y1="242.30" x2="739.08" y2="245.30" stroke="#d9405d" stroke-width="1"/>
<rect x="737.33" y="243.30" width="3.5" height="1.20" fill="#d9405d"/>
<line x1="743.65" y1="242.80" x2="743.65" y2="252.80" stroke="#d9405d" stroke-width="1"/>
<rect x="741.90" y="243.80" width="3.5" height="8.00" fill="#d9405d"/>
<line x1="748.23" y1="246.40" x2="748.23" y2="257.00" stroke="#d9405d" stroke-width="1"/>
<rect x="746.48" y="251.00" width="3.5" height="5.00" fill="#d9405d"/>
<!-- pink rectangle -->
<rect x="496" y="119.5" width="296.5" height="17.5" fill="#ecd5f3" stroke="#a466b8" stroke-width="1.6"/>
<!-- question mark -->
<path d="M629.3,165 A14.75,14.75 0 1 1 656.1,175.5 Q640.5,181.5 640.5,186.5" fill="none" stroke="#c8142f" stroke-width="12" stroke-linecap="round"/>
<circle cx="640.8" cy="203.5" r="6.3" fill="#c8142f"/>
<!-- down-right box -->
<g transform="translate(547.2,246)">
<rect x="0" y="0" width="36.7" height="36" rx="3.5" fill="#3c87c8"/>
<polygon points="7,12.2 12.2,7 22.15,16.95 28.1,11 28.1,27.5 11.6,27.5 16.95,22.15" fill="#ffffff"/>
</g>
<!-- up-right box -->
<g transform="translate(698,172.8)">
<rect x="0" y="0" width="36.8" height="36.9" rx="3.5" fill="#3c87c8"/>
<polygon points="7,24.7 12.2,29.9 22.15,19.95 28.1,25.9 28.1,9.4 11.6,9.4 16.95,14.75" fill="#ffffff"/>
</g>
<g id="cartoon">
<!-- sky band -->
<path d="M733,60 Q738,52 748,53 L772,52 Q786,54 791,62 L792,78 L731,71.5 Z" fill="#d2e7ee"/>
<!-- cloud -->
<path d="M765,71 Q764,66 768.5,66 Q769.5,61.5 774,62.5 Q777,59.5 780.5,63.5 Q784.5,63.5 784.5,69 L784,72 Z" fill="#fbf6e2" stroke="#a3adb3" stroke-width="0.7"/>
<!-- cliff rock -->
<path d="M732.5,75 L792,84 L792,121 L749,121 Q743,108 740.5,98 Q737.5,86 732.5,75 Z" fill="#a3582a" stroke="#4a2410" stroke-width="0.8"/>
<g stroke="#6a3214" stroke-width="1.1" fill="none" stroke-linecap="round">
<path d="M739,84 Q743,92 743,100 Q746,106 747,112"/>
<path d="M744,85 Q748,94 747,104 L752,112 L751,119"/>
<path d="M750,87 Q753,95 751,100 Q756,106 755,118"/>
<path d="M755,88 Q758,96 757,104 L761,110 L759,120"/>
<path d="M761,89 Q763,98 761,106 Q765,112 764,120"/>
<path d="M766,90 Q769,98 767,103 L771,110 L769,119"/>
<path d="M771,91 Q774,100 772,107 Q776,113 774,120"/>
<path d="M776,92 Q779,100 777,108 L781,114"/>
<path d="M781,92 Q784,102 782,110 Q786,114 785,120"/>
<path d="M786,93 Q789,102 788,112"/>
<path d="M747,96 L753,98 M757,100 L764,98 M768,104 L775,102 M778,106 L786,104 M752,108 L760,106"/>
</g>
<!-- grass -->
<path d="M730.5,71.5 L792,80.5 L792,91.5 Q776,88 762,83 Q746,78 733,76 Z" fill="#76983b" stroke="#35451a" stroke-width="0.8"/>
<path d="M745,77.5 L752,80 M766,83 L775,86 M780,86 L788,89" stroke="#4f6a22" stroke-width="0.8"/>
<!-- falling rocks -->
<circle cx="729.4" cy="79" r="0.9" fill="#3b4660"/>
<circle cx="728.4" cy="82.8" r="1.4" fill="#3b4660"/>
<circle cx="731.8" cy="87.8" r="1.7" fill="#3b4660"/>
<circle cx="733.9" cy="95.6" r="1.3" fill="#3b4660"/>
<!-- legs -->
<path d="M741,57.5 Q738,62 734,63" stroke="#111" stroke-width="1.5" fill="none"/>
<path d="M752,60 Q751,66 757,68" stroke="#111" stroke-width="1.5" fill="none"/>
<!-- shoes -->
<rect x="721" y="60" width="15.5" height="8" rx="3.8" transform="rotate(40 728.7 64)" fill="#ad421c" stroke="#3a1a0a" stroke-width="0.9"/>
<rect x="754.8" y="64.5" width="9.4" height="11" rx="3.5" transform="rotate(-8 759.5 70)" fill="#c0501f" stroke="#3a1a0a" stroke-width="0.9"/>
<!-- arms -->
<path d="M734,42 Q729,41 725,36.5" stroke="#111" stroke-width="1.4" fill="none"/>
<path d="M770,49 Q775,49.5 778.5,47" stroke="#111" stroke-width="1.4" fill="none"/>
<!-- hands -->
<g stroke-linecap="round" fill="none">
<g stroke="#7d838c" stroke-width="3.8">
<path d="M722,34.5 L714,30.5 M722,34.5 L715.5,25 M722,34.5 L719.5,22.5 M722,34.5 L725,24.5 M722,34.5 L727.5,35"/>
<path d="M780,45.5 L776.5,38.5 M780,45.5 L779.5,36 M780,45.5 L783.5,36.5 M780,45.5 L786.5,39.5 M780,45.5 L786.5,47"/>
</g>
<g stroke="#f6f8ef" stroke-width="2.4">
<path d="M722,34.5 L714,30.5 M722,34.5 L715.5,25 M722,34.5 L719.5,22.5 M722,34.5 L725,24.5 M722,34.5 L727.5,35"/>
<path d="M780,45.5 L776.5,38.5 M780,45.5 L779.5,36 M780,45.5 L783.5,36.5 M780,45.5 L786.5,39.5 M780,45.5 L786.5,47"/>
</g>
</g>
<circle cx="721.3" cy="32.5" r="3.8" fill="#f6f8ef"/>
<circle cx="781" cy="44" r="3.6" fill="#f6f8ef"/>
<!-- coin -->
<ellipse cx="753.8" cy="40.3" rx="19" ry="21" transform="rotate(-18 753.8 40.3)" fill="#c8861b" stroke="#2a1a08" stroke-width="1.2"/>
<ellipse cx="751.5" cy="40.6" rx="18" ry="20.4" transform="rotate(-18 751.5 40.6)" fill="#eba223" stroke="#2a1a08" stroke-width="1.2"/>
<ellipse cx="751.5" cy="40.6" rx="14.8" ry="17.2" transform="rotate(-18 751.5 40.6)" fill="#efa92a" stroke="#c47a15" stroke-width="1.2"/>
<text x="737" y="55" font-family="Liberation Sans, sans-serif" font-weight="bold" font-size="31" fill="#eda726" stroke="#b0650f" stroke-width="0.8" transform="rotate(-14 751 40)">B</text>
<!-- eyes -->
<ellipse cx="747" cy="33.5" rx="3.5" ry="4.3" fill="#ffffff" stroke="#2a1a08" stroke-width="1"/>
<ellipse cx="755" cy="34.3" rx="3.7" ry="4.3" fill="#ffffff" stroke="#2a1a08" stroke-width="1"/>
<circle cx="747.6" cy="34.4" r="1.5" fill="#111"/>
<circle cx="755.2" cy="35.2" r="1.5" fill="#111"/>
<!-- mouth -->
<path d="M738.5,41.5 Q744,37.8 750.5,40.2 Q752,46.5 746.5,50.5 Q739.5,50 738.5,41.5 Z" fill="#3e1606" stroke="#2a1a08" stroke-width="0.9"/>
<path d="M741,47 Q745.5,44.5 749,47.5 Q745,51 741,47 Z" fill="#c9551f"/>
</g>

<!-- right price labels -->
<rect x="795" y="250" width="5" height="21" fill="#e23a55"/>
<rect x="795" y="377" width="5" height="13" fill="#e8677a"/>
<!-- top right crosshair label -->
<rect x="780.3" y="64.6" width="13.7" height="11.8" fill="#131722"/>
<rect x="795" y="64.6" width="5" height="11.8" fill="#131722"/>
<path d="M790.5,68.5 A4,4 0 1 1 787,66.5" fill="none" stroke="#b9bcc4" stroke-width="1.1"/>
<path d="M786,72.5 L789,69.5 M786.5,69.8 L789,69.5 L789,72" fill="none" stroke="#b9bcc4" stroke-width="1"/>
<g font-family="Liberation Sans, sans-serif">
<!-- title -->
<g font-size="10.6" fill="#2a2e38" stroke="#2a2e38" stroke-width="0.2">
<text x="-12.1" y="13.8" textLength="95.1" lengthAdjust="spacingAndGlyphs">Bitcoin / U.S. Dollar</text>
<text x="93.3" y="13.8" textLength="11" lengthAdjust="spacingAndGlyphs">1D</text>
<text x="113.3" y="13.8" textLength="41.9" lengthAdjust="spacingAndGlyphs">Bitstamp</text>
</g>
<circle cx="87.8" cy="10" r="1.15" fill="#1e222d"/>
<circle cx="109" cy="10" r="1.15" fill="#1e222d"/>
<circle cx="166" cy="10" r="5" fill="#089981" fill-opacity="0.13"/>
<circle cx="166" cy="10" r="2.6" fill="#1a9a7f"/>
<!-- OHLC -->
<g font-size="8.8">
<text x="177.8" y="13.6" fill="#2e3240" stroke="#2e3240" stroke-width="0.3">O</text>
<text x="184.4" y="13.6" fill="#45a88e" textLength="30.6" lengthAdjust="spacingAndGlyphs">118,674</text>
<text x="218.7" y="13.6" fill="#2e3240" stroke="#2e3240" stroke-width="0.3">H</text>
<text x="224.7" y="13.6" fill="#45a88e" textLength="30.8" lengthAdjust="spacingAndGlyphs">121,106</text>
<text x="260" y="13.6" fill="#2e3240" stroke="#2e3240" stroke-width="0.3">L</text>
<text x="265" y="13.6" fill="#45a88e" textLength="30" lengthAdjust="spacingAndGlyphs">118,355</text>
<text x="299" y="13.6" fill="#2e3240" stroke="#2e3240" stroke-width="0.3">C</text>
<text x="304.5" y="13.6" fill="#45a88e" textLength="30.5" lengthAdjust="spacingAndGlyphs">120,612</text>
<text x="340" y="13.6" fill="#45a88e" textLength="26" lengthAdjust="spacingAndGlyphs">+1,944</text>
<text x="367.5" y="13.6" fill="#45a88e" textLength="33.5" lengthAdjust="spacingAndGlyphs">(+1.64%)</text>
</g>
<!-- sell box -->
<rect x="-6" y="20.7" width="19.4" height="22" rx="3" fill="#ffffff" stroke="#dcaab2" stroke-width="1.2"/>
<text x="5.6" y="28.9" font-size="8" font-weight="bold" fill="#e2677a" text-anchor="end">63</text>
<rect x="0" y="33.5" width="1.2" height="5" fill="#e8a9b3"/>
<text x="18.6" y="34.3" font-size="7.6" font-weight="bold" fill="#3a3e48" textLength="3.6" lengthAdjust="spacingAndGlyphs">5</text>
<rect x="28.3" y="20.7" width="40" height="22" rx="3.5" fill="#ffffff" stroke="#aaadb5" stroke-width="1.4"/>
<text x="35.5" y="28.9" font-size="8.2" font-weight="bold" fill="#7479d4" textLength="25.6" lengthAdjust="spacingAndGlyphs">86,668</text>
<text x="41.3" y="38.4" font-size="8" font-weight="bold" fill="#7a7fd3" textLength="13.5" lengthAdjust="spacingAndGlyphs">BUY</text>
<text x="8" y="57" font-size="10" font-weight="bold" fill="#2e3240" text-anchor="end" textLength="8.5" lengthAdjust="spacingAndGlyphs">TC</text>
<text x="12.8" y="57" font-size="10" fill="#5aa892" textLength="23.2" lengthAdjust="spacingAndGlyphs">2.08 K</text>
<!-- TradingView logo -->
<rect x="-2" y="383.5" width="84" height="12.5" rx="2" fill="#ffffff" fill-opacity="0.82"/>
<text x="0.3" y="395.6" font-size="13.6" font-weight="bold" fill="#131722" textLength="80" lengthAdjust="spacingAndGlyphs">TradingView</text>
<!-- time axis -->
<g font-size="8.8" font-weight="bold" fill="#2e3138">
<text x="118.7" y="418.2" textLength="14" lengthAdjust="spacingAndGlyphs">Aug</text>
<text x="261" y="418.2" textLength="14" lengthAdjust="spacingAndGlyphs">Sep</text>
<text x="539.7" y="418.2" textLength="14" lengthAdjust="spacingAndGlyphs">Nov</text>
<text x="677" y="418.2" textLength="14" lengthAdjust="spacingAndGlyphs">Dec</text>
</g>
<rect x="377.5" y="405.6" width="63.5" height="16.3" rx="1.5" fill="#131722"/>
<text x="383.8" y="418.7" font-size="8.8" fill="#ffffff" textLength="51.2" lengthAdjust="spacingAndGlyphs">Thu 02 Oct '25</text>
<line x1="0" y1="423.8" x2="800" y2="423.8" stroke="#f0f1f4" stroke-width="1"/>
<!-- bottom toolbar -->
<g font-size="10.2" fill="#2e3138" stroke="#2e3138" stroke-width="0.35">
<text x="-1.8" y="442">D</text>
<text x="13.75" y="442" textLength="11.25" lengthAdjust="spacingAndGlyphs">1M</text>
<text x="32.5" y="442" textLength="12" lengthAdjust="spacingAndGlyphs">3M</text>
<text x="52.5" y="442" textLength="12" lengthAdjust="spacingAndGlyphs">6M</text>
<text x="72.5" y="442" textLength="16.25" lengthAdjust="spacingAndGlyphs">YTD</text>
<text x="97.5" y="442" textLength="8.75" lengthAdjust="spacingAndGlyphs">1Y</text>
<text x="115" y="442" textLength="9.5" lengthAdjust="spacingAndGlyphs">5Y</text>
<text x="133.75" y="442" textLength="10.75" lengthAdjust="spacingAndGlyphs">All</text>
<text x="775.6" y="441" font-size="10" textLength="25" lengthAdjust="spacingAndGlyphs">16:35:</text>
</g>
<!-- calendar icon -->
<g fill="none" stroke="#2e3240" stroke-width="1.1">
<path d="M163.5,433.5 L172.5,433.5 L172.5,442.5 L166,442.5 M160.5,437.5 L160.5,433.5 L163.5,433.5"/>
<line x1="163.5" y1="431.5" x2="163.5" y2="435"/>
<line x1="170" y1="431.5" x2="170" y2="435"/>
<line x1="160.5" y1="436.5" x2="172.5" y2="436.5"/>
<path d="M160,440 L165,440 M163.3,438.3 L165,440 L163.3,441.7"/>
</g>
<!-- US flag pill -->
<g>
<defs><clipPath id="pillclip"><rect x="744.5" y="389.6" width="29.6" height="14.2" rx="7.1"/></clipPath></defs>
<path d="M738.3,398.2 L740.8,394.8 L743.3,398.2 L740.8,401.6 Z" fill="#7a4fd2"/>
<rect x="744.5" y="389.6" width="29.6" height="14.2" rx="7.1" fill="#f8dfe3"/>
<g clip-path="url(#pillclip)" stroke="#e4677a" stroke-width="1.3">
<line x1="744" y1="391.6" x2="775" y2="391.6"/>
<line x1="744" y1="394.6" x2="775" y2="394.6"/>
<line x1="744" y1="397.6" x2="775" y2="397.6"/>
<line x1="744" y1="400.6" x2="775" y2="400.6"/>
</g>
<circle cx="757.5" cy="396.7" r="5.8" fill="none" stroke="#e05a6e" stroke-width="0.9"/>
<circle cx="763" cy="396.7" r="5.8" fill="none" stroke="#e05a6e" stroke-width="0.9"/>
<circle cx="768" cy="396.7" r="5.8" fill="none" stroke="#e05a6e" stroke-width="0.9"/>
<circle cx="751" cy="396.7" r="6.2" fill="#ffffff" stroke="#e05a6e" stroke-width="1"/>
<g stroke="#e05a6e" stroke-width="1.2"><line x1="745.5" y1="394" x2="756.5" y2="394"/><line x1="745" y1="397" x2="757" y2="397"/><line x1="745.5" y1="400" x2="756.5" y2="400"/></g>
<path d="M745,396.7 A6,6 0 0 1 751,390.7 L751,396.7 Z" fill="#3f7fd6"/>
<rect x="744.5" y="389.6" width="29.6" height="14.2" rx="7.1" fill="none" stroke="#e46b7d" stroke-width="1"/>
</g>
</g>

</svg>
</body></html>
